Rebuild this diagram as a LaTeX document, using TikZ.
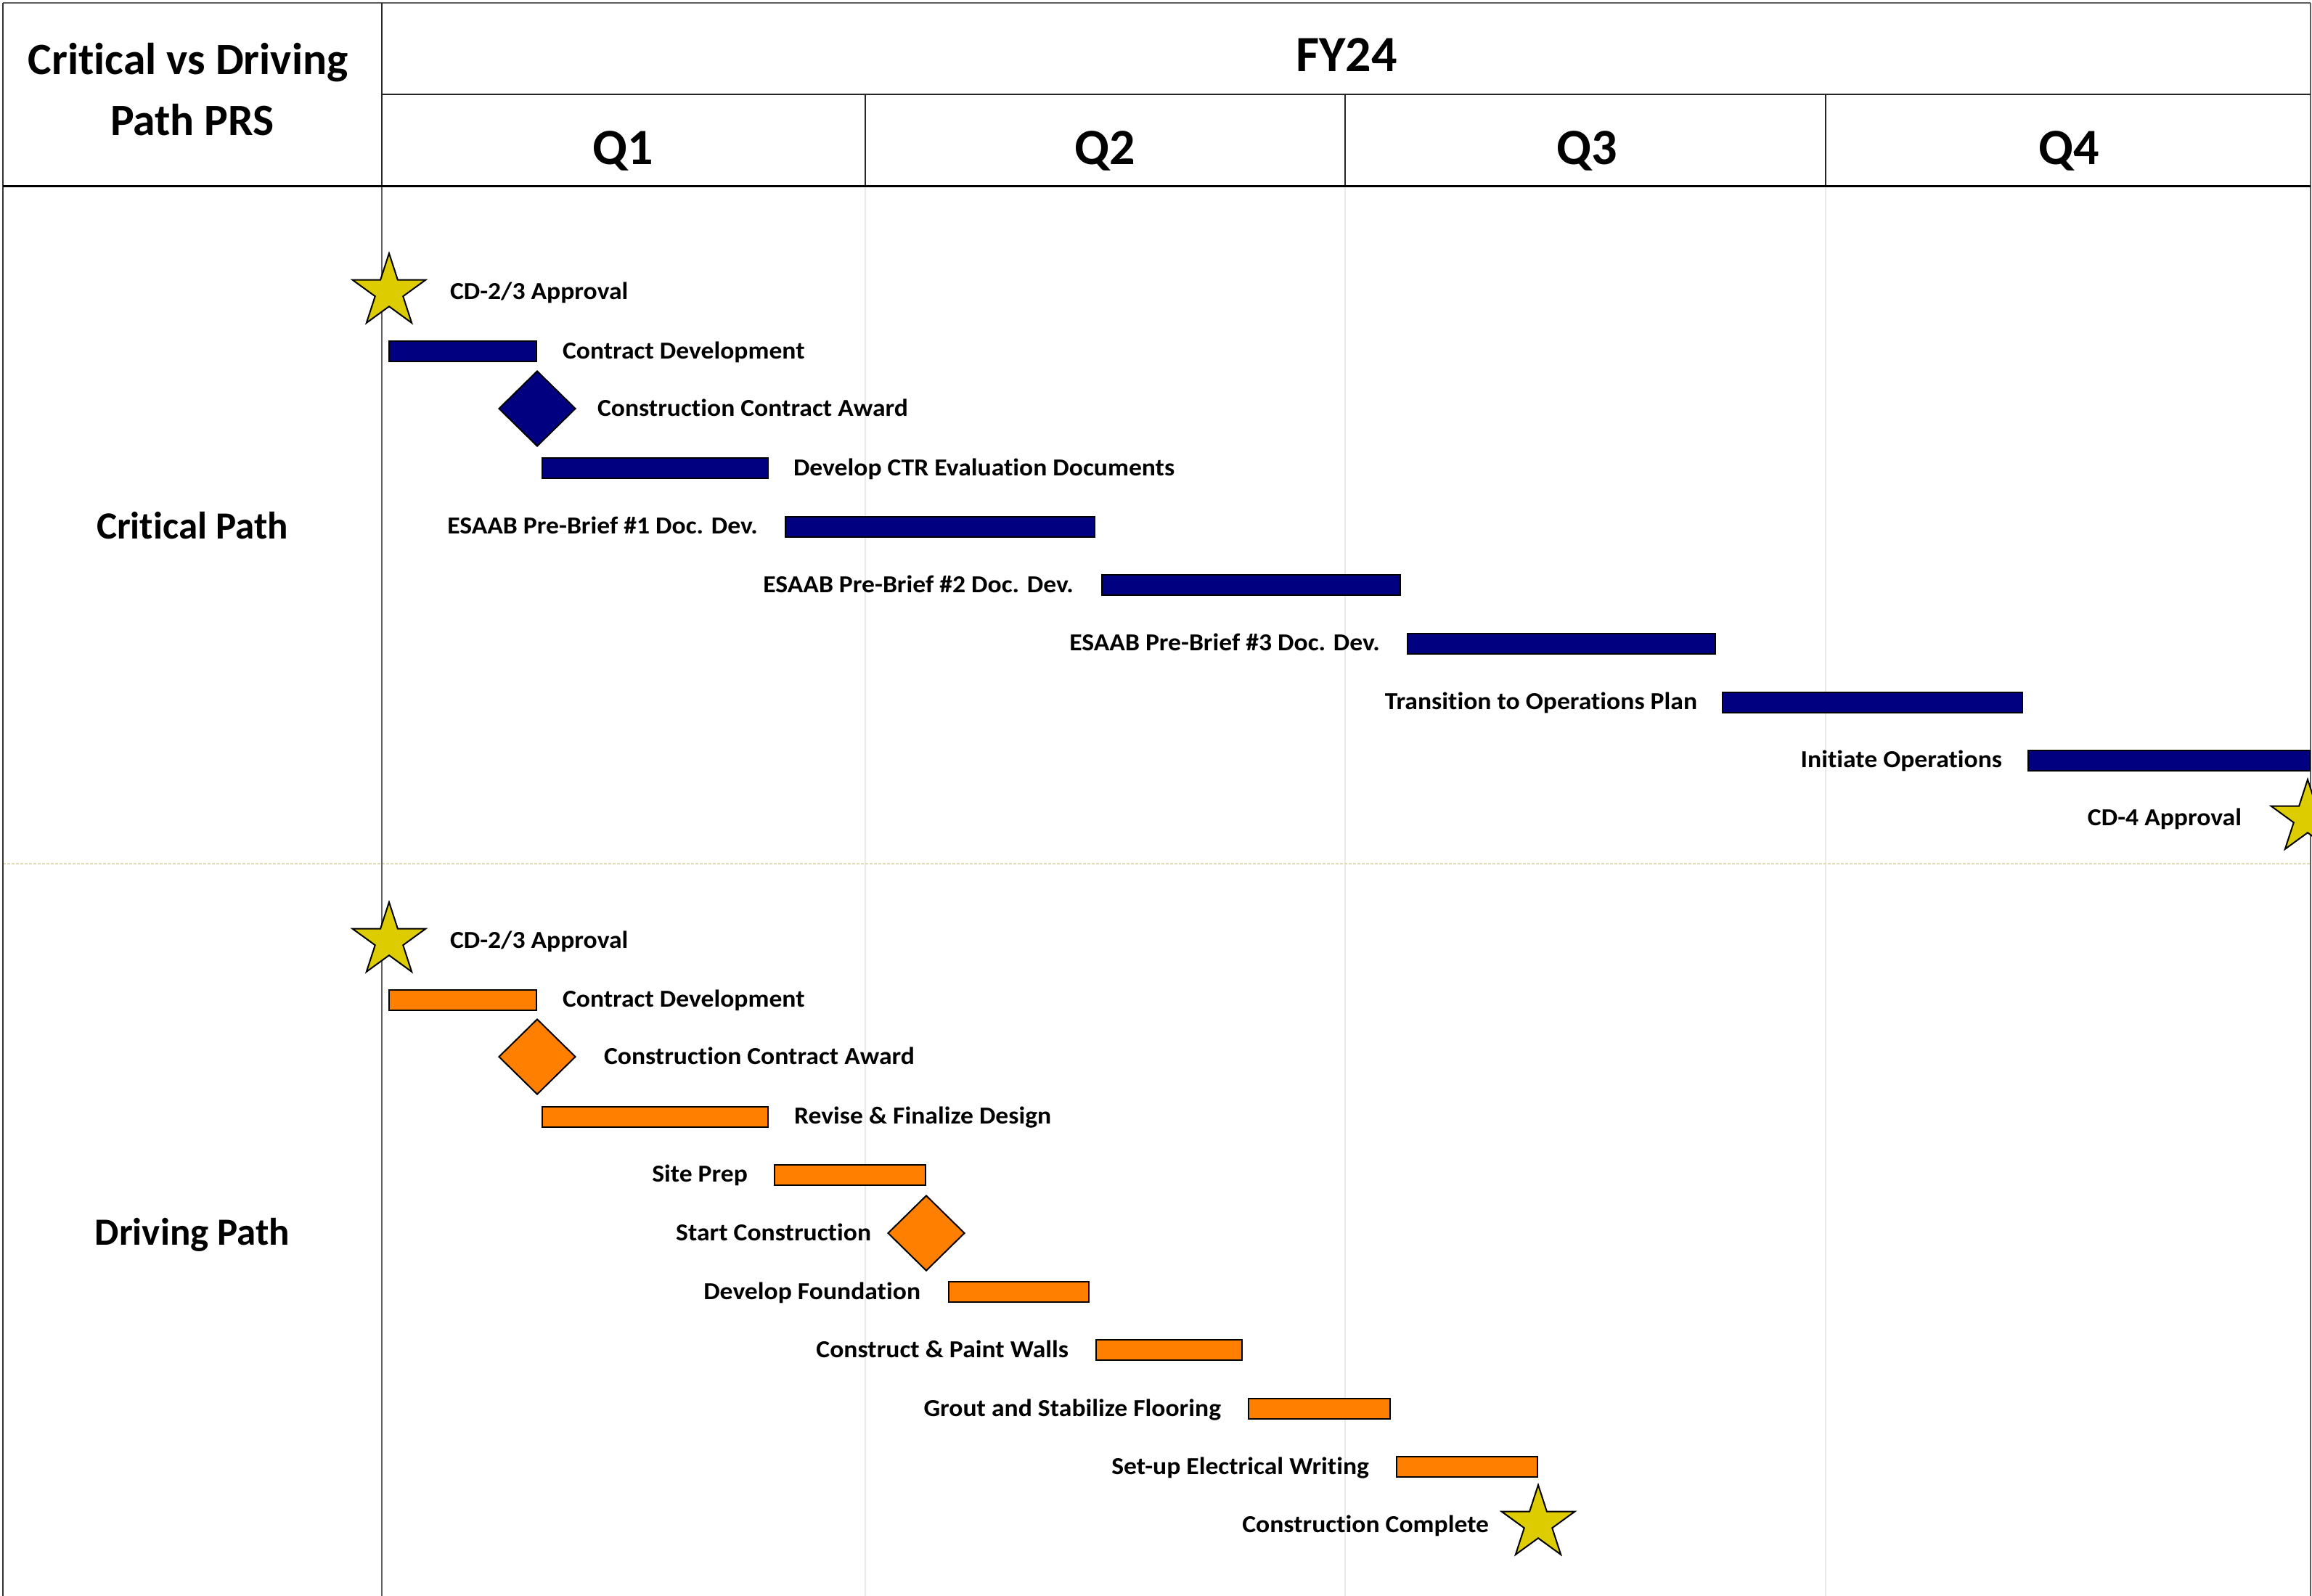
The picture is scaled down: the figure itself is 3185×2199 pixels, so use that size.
\documentclass[tikz,border=0pt]{standalone}
\usepackage{fontspec}
\setmainfont{Carlito}[Ligatures=CommonOff]
\newfontfamily\lblfont[FakeStretch=1.06,Ligatures=CommonOff]{Carlito}
\usetikzlibrary{shapes.geometric}
\definecolor{navyfill}{RGB}{0,0,128}
\definecolor{orngfill}{RGB}{255,128,0}
\definecolor{staryellow}{RGB}{221,204,0}
\definecolor{gridgray}{RGB}{234,234,234}
\definecolor{divtan}{RGB}{228,218,178}
\definecolor{framegray}{RGB}{95,95,95}
\tikzset{
  cbar/.style={rectangle, draw=black, line width=1pt, fill=navyfill, minimum height=14pt, inner sep=0pt, outer sep=0pt},
  dbar/.style={cbar, fill=orngfill},
  cmile/.style={diamond, draw=black, line width=1pt, fill=navyfill, minimum width=53pt, minimum height=52pt, inner sep=0pt},
  dmile/.style={cmile, fill=orngfill},
  starmile/.style={star, star points=5, star point ratio=2.618, draw=black, line width=1pt, fill=staryellow, minimum size=53pt, inner sep=0pt},
  lbl/.style={font=\lblfont\fontsize{16.8}{20}\selectfont\bfseries, inner sep=0pt, outer sep=0pt},
  lblr/.style={lbl, anchor=base west},
  lbll/.style={lbl, anchor=base east},
  qlbl/.style={font=\fontsize{35}{40}\selectfont\bfseries, inner sep=0pt, anchor=base},
  ttl/.style={font=\fontsize{30.8}{36}\selectfont\bfseries, inner sep=0pt, anchor=base},
  seclbl/.style={font=\fontsize{26.5}{30}\selectfont\bfseries, inner sep=0pt, anchor=base},
  frame/.style={draw=framegray, line width=1pt},
  hline/.style={draw=black!85, line width=1pt},
  grid/.style={draw=gridgray, line width=0.8pt},
  divider/.style={draw=divtan, line width=1pt, dash pattern=on 2pt off 1pt},
}
\newcommand\ganttbar[5]{\node[#1, minimum width={(#4-#3)*0.5pt-1pt}] (#2) at ({(#3+#4)/2}, #5) {};}
\begin{document}
\begin{tikzpicture}[x=0.5pt, y=-0.5pt]
\useasboundingbox (0,0) rectangle (3185,2199);
\fill[white] (0,0) rectangle (3185,2199);
% body grid lines
\foreach \gx in {1192,1853,2515} \draw[grid] (\gx,257) -- (\gx,2199);
% section divider
\draw[divider] (4,1190) -- (3183,1190);
% frame and header lines
\draw[frame] (4,4) -- (3183,4);
\draw[draw=black!80, line width=1pt] (4,4) -- (4,2199);
\draw[frame] (3183,4) -- (3183,2199);
\draw[hline] (526,4) -- (526,257);
\draw[frame] (526,257) -- (526,2199);
\draw[hline] (526,130) -- (3183,130);
\foreach \gx in {1192,1853,2515} \draw[hline] (\gx,130) -- (\gx,257);
\draw[draw=black, line width=1.5pt] (4,257) -- (3183,257);
% header texts
\node[ttl] (title1) at (259,103) {Critical vs Driving};
\node[ttl] (title2) at (265,187) {Path PRS};
\node[qlbl] (fy) at (1855,99) {FY24};
\node[qlbl] (q1) at (858,227) {Q1};
\node[qlbl] (q2) at (1522,227) {Q2};
\node[qlbl] (q3) at (2186,227) {Q3};
\node[qlbl] (q4) at (2850,227) {Q4};
\node[seclbl] (critlbl) at (265,742) {Critical Path};
\node[seclbl] (drivlbl) at (265,1715) {Driving Path};
% ---------------- Critical path ----------------
\node[starmile] (c0) at (536,402) {};
\node[lblr] (c0l) at (620,412.5) {CD-2/3 Approval};
\ganttbar{cbar}{c1}{535}{740}{484}
\node[lblr] (c1l) at (775,494.5) {Contract Development};
\node[cmile] (c2) at (740,563) {};
\node[lblr] (c2l) at (823,573.5) {Construction Contract Award};
\ganttbar{cbar}{c3}{746}{1059}{645}
\node[lblr] (c3l) at (1093,655.5) {Develop CTR Evaluation Documents};
\ganttbar{cbar}{c4}{1081}{1509}{726}
\node[lbll] (c4l) at (1044,735.5) {ESAAB Pre-Brief \#1 Doc. Dev.};
\ganttbar{cbar}{c5}{1517}{1930}{806}
\node[lbll] (c5l) at (1479,816) {ESAAB Pre-Brief \#2 Doc. Dev.};
\ganttbar{cbar}{c6}{1938}{2364}{887}
\node[lbll] (c6l) at (1901,896.5) {ESAAB Pre-Brief \#3 Doc. Dev.};
\ganttbar{cbar}{c7}{2372}{2787}{968}
\node[lbll] (c7l) at (2338,977) {Transition to Operations Plan};
\ganttbar{cbar}{c8}{2793}{3183}{1048}
\node[lbll] (c8l) at (2758,1057.5) {Initiate Operations};
\node[starmile] (c9) at (3179,1127) {};
\node[lbll] (c9l) at (3088,1137.5) {CD-4 Approval};
% ---------------- Driving path ----------------
\node[starmile] (d0) at (536,1296) {};
\node[lblr] (d0l) at (620,1306.5) {CD-2/3 Approval};
\ganttbar{dbar}{d1}{535}{740}{1378}
\node[lblr] (d1l) at (775,1387.5) {Contract Development};
\node[dmile] (d2) at (740,1456) {};
\node[lblr] (d2l) at (832,1466.5) {Construction Contract Award};
\ganttbar{dbar}{d3}{746}{1059}{1539}
\node[lblr] (d3l) at (1094,1548.5) {Revise \& Finalize Design};
\ganttbar{dbar}{d4}{1066}{1276}{1619}
\node[lbll] (d4l) at (1030,1628.5) {Site Prep};
\node[dmile] (d5) at (1276,1699) {};
\node[lbll] (d5l) at (1200,1709.5) {Start Construction};
\ganttbar{dbar}{d6}{1306}{1501}{1780}
\node[lbll] (d6l) at (1268,1790) {Develop Foundation};
\ganttbar{dbar}{d7}{1509}{1712}{1860}
\node[lbll] (d7l) at (1472,1870.5) {Construct \& Paint Walls};
\ganttbar{dbar}{d8}{1719}{1916}{1941}
\node[lbll] (d8l) at (1682,1951) {Grout and Stabilize Flooring};
\ganttbar{dbar}{d9}{1923}{2119}{2021}
\node[lbll] (d9l) at (1886,2031.5) {Set-up Electrical Writing};
\node[starmile] (d10) at (2119,2099) {};
\node[lbll] (d10l) at (2051,2111) {Construction Complete};
\end{tikzpicture}
\end{document}
